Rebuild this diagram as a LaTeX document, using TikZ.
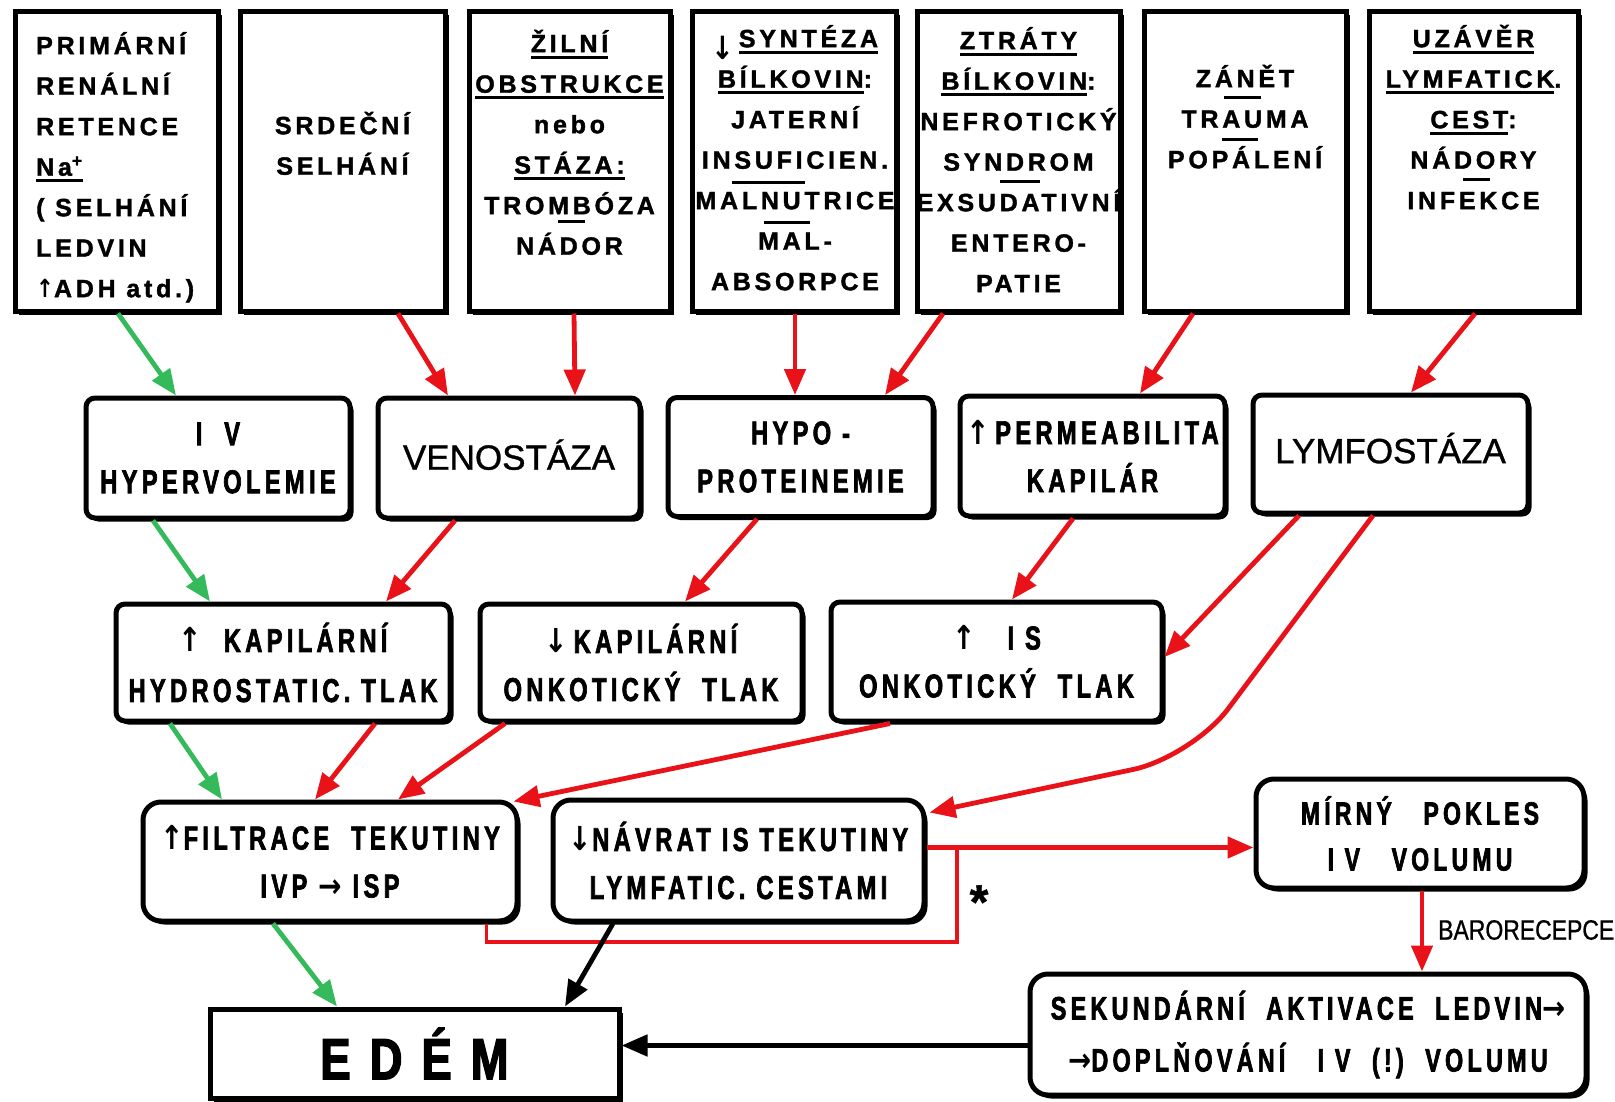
\documentclass[tikz,border=0pt]{standalone}
\usepackage{fontspec}
\usetikzlibrary{arrows.meta,shadows,calc}
\newfontfamily\topf{Liberation Sans}[LetterSpace=15,FakeBold=1.5]
\newfontfamily\condf{Liberation Sans}[FakeStretch=0.72,LetterSpace=13,FakeBold=2]
\newfontfamily\edemf{Liberation Sans}[FakeStretch=0.78,LetterSpace=33,FakeBold=2.5]
\newfontfamily\regf{Liberation Sans}[FakeBold=1]
\newfontfamily\barof{Liberation Sans}[FakeStretch=0.82,FakeBold=0.8]
\newfontfamily\arrf{DejaVu Sans}[FakeStretch=0.85]
\newcommand\up{{\arrf\bfseries ↑}}
\newcommand\down{{\arrf\bfseries ↓}}
\newcommand\rarrow{{\arrf\bfseries →}}
\definecolor{ar}{RGB}{232,18,24}
\definecolor{ag}{RGB}{52,186,90}
\newcommand\mystrut{\rule{0pt}{26pt}}
\newcommand\myul[1]{\setbox0\hbox{#1}\rlap{\rule[-6.5pt]{\wd0}{3pt}}\box0}
\tikzset{
  box/.style={draw, line width=5pt, fill=white, inner sep=0pt,
    drop shadow={opacity=1, fill=black, shadow xshift=3.5pt, shadow yshift=-3.5pt}},
  tbox/.style={box},
  rbox/.style={box, rounded corners=9pt, align=center,
    font=\condf\bfseries\fontsize{33}{48}\selectfont},
  ttext/.style={font=\topf\bfseries\fontsize{25}{40.5}\selectfont, inner sep=0pt, align=center, anchor=north},
  arr/.style={line width=4.8pt, -{Triangle[length=26pt,width=21pt]}},
  rarr/.style={arr, draw=ar},
  garr/.style={arr, draw=ag},
  karr/.style={arr, draw=black},
  rline/.style={line width=4.8pt, draw=ar},
  rthin/.style={line width=3.5pt, draw=ar},
  sep/.style={line width=3pt, draw=black}
}
\begin{document}
\begin{tikzpicture}[x=1pt,y=-1pt]
\fill[white] (0,0) rectangle (1615,1102);
\useasboundingbox (0,0) rectangle (1615,1102);

% top row boxes
\node[tbox, minimum width=203pt, minimum height=299pt] (b1) at (116.5,161.5) {};
\node[tbox, minimum width=205pt, minimum height=299pt] (b2) at (342.5,161.5) {};
\node[tbox, minimum width=201pt, minimum height=299pt] (b3) at (569.5,161.5) {};
\node[tbox, minimum width=204pt, minimum height=299pt] (b4) at (794,161.5) {};
\node[tbox, minimum width=203pt, minimum height=299pt] (b5) at (1018.5,161.5) {};
\node[tbox, minimum width=202pt, minimum height=299pt] (b6) at (1245,161.5) {};
\node[tbox, minimum width=209pt, minimum height=299pt] (b7) at (1473.5,161.5) {};

\node[ttext, anchor=north west, align=left] (t1) at (36,28)
  {\mystrut PRIMÁRNÍ\\RENÁLNÍ\\RETENCE\\\myul{Na\textsuperscript{+}}\\( SELHÁNÍ\\LEDVIN\\\up ADH atd.)};
\node[ttext] (t2) at (342.5,108) {\mystrut SRDEČNÍ\\SELHÁNÍ};
\node[ttext] (t3) at (569.5,26)
  {\mystrut\myul{ŽILNÍ}\\\myul{OBSTRUKCE}\\nebo\\\myul{STÁZA:}\\TROMBÓZA\\NÁDOR};
\node[ttext] (t4) at (795,21)
  {\mystrut\raisebox{-12pt}{\fontsize{32}{32}\selectfont\down}\,\myul{SYNTÉZA}\\\myul{BÍLKOVIN}:\\JATERNÍ\\INSUFICIEN.\\MALNUTRICE\\MAL-\\ABSORPCE};
\node[ttext] (t5) at (1018.5,23)
  {\mystrut\myul{ZTRÁTY}\\\myul{BÍLKOVIN}:\\NEFROTICKÝ\\SYNDROM\\EXSUDATIVNÍ\\ENTERO-\\PATIE};
\node[ttext] (t6) at (1245,61) {\mystrut ZÁNĚT\\TRAUMA\\POPÁLENÍ};
\node[ttext] (t7) at (1473.5,21)
  {\mystrut\myul{UZÁVĚR}\\\myul{LYMFATICK}.\\\myul{CEST} :\\NÁDORY\\INFEKCE};

% separators
\draw[sep] (558,222) -- (585,222);
\draw[sep] (732,183) -- (805,183);
\draw[sep] (764,223) -- (810,223);
\draw[sep] (1000,182) -- (1040,182);
\draw[sep] (1224,98) -- (1261,98);
\draw[sep] (1222,140) -- (1258,140);
\draw[sep] (1463,180) -- (1490,180);

% row 2
\node[rbox, minimum width=264pt, minimum height=120pt] (r2a) at (218,458) {I\ \ V\\HYPERVOLEMIE};
\node[rbox, minimum width=262pt, minimum height=120pt, font=\regf\fontsize{35}{40}\selectfont] (r2b) at (509,458) {\raisebox{7pt}{VENOSTÁZA}};
\node[rbox, minimum width=265pt, minimum height=119pt] (r2c) at (800.5,457) {HYPO -\\PROTEINEMIE};
\node[rbox, minimum width=265pt, minimum height=120pt] (r2d) at (1092.5,456) {\up\,PERMEABILITA\\KAPILÁR};
\node[rbox, minimum width=275pt, minimum height=118pt, font=\regf\fontsize{35}{40}\selectfont] (r2e) at (1390.5,454) {\raisebox{12pt}{LYMFOSTÁZA}};

% row 3
\node[rbox, minimum width=334pt, minimum height=117pt, font=\condf\bfseries\fontsize{33}{50}\selectfont] (r3a) at (283,662.5) {\up\ \ KAPILÁRNÍ\\HYDROSTATIC. TLAK};
\node[rbox, minimum width=322pt, minimum height=117pt] (r3b) at (641,662.5) {\down\,KAPILÁRNÍ\\ONKOTICKÝ\ \ TLAK};
\node[rbox, minimum width=331pt, minimum height=119pt] (r3c) at (996.5,661.5) {\up\hspace{32pt}I S\\ONKOTICKÝ\ \ TLAK};

% row 4
\node[rbox, rounded corners=18pt, minimum width=374pt, minimum height=119pt] (r4a) at (330,861.5) {\up FILTRACE\ \ TEKUTINY\\IVP \rarrow\ ISP};
\node[rbox, rounded corners=18pt, minimum width=371pt, minimum height=121pt] (r4b) at (738.5,860.5) {\down NÁVRAT IS TEKUTINY\\LYMFATIC. CESTAMI};
\node[rbox, rounded corners=18pt, minimum width=328pt, minimum height=109pt, font=\condf\bfseries\fontsize{32}{46}\selectfont] (r4c) at (1420,833.5) {MÍRNÝ\ \ \ POKLES\\I V\ \ \ VOLUMU};

% row 5
\node[box, minimum width=409pt, minimum height=89pt, font=\edemf\bfseries\fontsize{58}{60}\selectfont] (edem) at (414.5,1053.5) {EDÉM};
\node[rbox, rounded corners=18pt, minimum width=556pt, minimum height=121pt, font=\condf\bfseries\fontsize{32.5}{52}\selectfont] (r5b) at (1308,1034.5) {SEKUNDÁRNÍ\ \ AKTIVACE\ \ LEDVIN\rarrow\\\rarrow DOPLŇOVÁNÍ\ \ \ I V\ \ (!)\ \ VOLUMU};

% arrows row1 -> row2
\draw[garr] ([xshift=1.5pt]b1.south) -- ([xshift=-42pt]r2a.north);
\draw[rarr] ([xshift=55.5pt]b2.south) -- ([xshift=-61pt]r2b.north);
\draw[rarr] ([xshift=4.5pt]b3.south) -- ([xshift=66pt]r2b.north);
\draw[rarr] ([xshift=1pt]b4.south) -- ([xshift=-5.5pt]r2c.north);
\draw[rarr] ([xshift=-75.5pt]b5.south) -- ([xshift=84.5pt]r2c.north);
\draw[rarr] ([xshift=-52pt]b6.south) -- ([xshift=47.5pt]r2d.north);
\draw[rarr] ([xshift=1.5pt]b7.south) -- ([xshift=20.5pt]r2e.north);

% row2 -> row3
\draw[garr] ([xshift=-65pt]r2a.south) -- ([xshift=-73pt]r3a.north);
\draw[rarr] ([xshift=-54pt]r2b.south) -- ([xshift=103pt]r3a.north);
\draw[rarr] ([xshift=-43.5pt]r2c.south) -- ([xshift=44pt]r3b.north);
\draw[rarr] ([xshift=-19.5pt]r2d.south) -- ([xshift=15.5pt]r3c.north);
\draw[rarr] ([xshift=-91.5pt]r2e.south) -- ([yshift=4.5pt]r3c.east);
\draw[rarr, rounded corners=60pt] ([xshift=-17.5pt]r2e.south) -- (1192,757) -- ([xshift=3pt,yshift=-15pt]r4b.north east);

% row3 -> row4
\draw[garr] ([xshift=-113pt]r3a.south) -- ([xshift=-108pt]r4a.north);
\draw[rarr] ([xshift=92pt]r3a.south) -- ([xshift=-15pt]r4a.north);
\draw[rarr] ([xshift=-136pt]r3b.south) -- ([xshift=68pt]r4a.north);
\draw[rarr] ([xshift=-106.5pt]r3c.south) -- ([xshift=-6pt,yshift=-2pt]r4a.north east);

% row 4 connections
\coordinate (j) at (957,847.5);
\coordinate (k) at (957,942);
\draw[rline] (r4b.east |- j) -- (j);
\draw[rarr] (j) -- (r4c.west |- j);
\draw[rthin] ([xshift=-33pt]r4a.south east) |- (k) -- (j);
\node[font=\regf\bfseries\fontsize{48}{48}\selectfont, inner sep=0pt] (ast) at (979,902) {*};

\draw[garr] ([xshift=-57pt]r4a.south) -- ([xshift=-77.5pt]edem.north);
\draw[karr] ([xshift=-125.5pt]r4b.south) -- ([xshift=150.5pt]edem.north);
\draw[rarr] ([xshift=2pt]r4c.south) -- ([xshift=2pt]r4c.south |- r5b.north);
\node[font=\barof\fontsize{28}{28}\selectfont, anchor=west, inner sep=0pt] (baro) at (1438,930) {BARORECEPCE};
\coordinate (m) at ([yshift=-11pt]r5b.west);
\draw[karr] (m) -- (m -| edem.east);
\end{tikzpicture}
\end{document}
